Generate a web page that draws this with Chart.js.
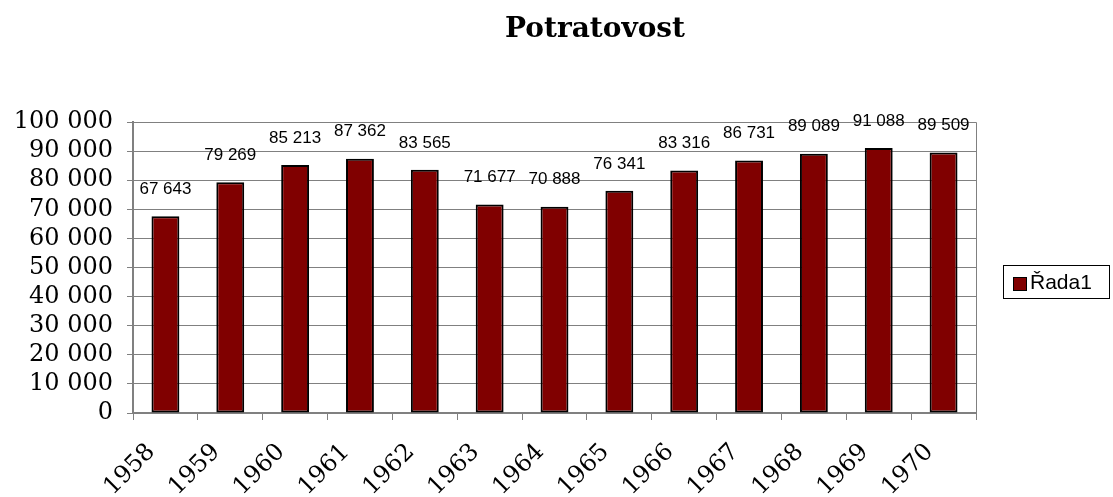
<!DOCTYPE html>
<html>
<head>
<meta charset="utf-8">
<script src="https://cdn.jsdelivr.net/npm/chart.js@4/dist/chart.umd.min.js"></script>
<style>
  html, body { margin: 0; padding: 0; background: #fff; }
  #wrap { width: 1113px; height: 497px; position: relative; }
</style>
</head>
<body>
<div id="wrap"><canvas id="chart"></canvas></div>
<script>
// chart data
const years = ['1958', '1959', '1960', '1961', '1962', '1963', '1964', '1965', '1966', '1967', '1968', '1969', '1970'];
const abortions = [67643, 79269, 85213, 87362, 83565, 71677, 70888, 76341, 83316, 86731, 89089, 91088, 89509];
const seriesName = 'Řada1';
const chartTitle = 'Potratovost';

// 100000 -> "100 000"
function fmt(v) {
    return String(v).replace(/\B(?=(\d{3})+(?!\d))/g, ' ');
}

// title, plot frame, value labels and legend drawn by hand
const extras = {
    id: 'extras',
    beforeDatasetsDraw(chart) {
        const { ctx, chartArea: a } = chart;
        ctx.save();
        ctx.strokeStyle = '#808080';
        ctx.lineWidth = 1;
        ctx.beginPath();
        ctx.moveTo(a.left, a.top + 0.5);
        ctx.lineTo(a.right + 0.5, a.top + 0.5);
        ctx.lineTo(a.right + 0.5, a.bottom);
        ctx.stroke();
        ctx.restore();
    },
    afterDraw(chart) {
        const { ctx } = chart;
        ctx.save();
        // title
        ctx.fillStyle = '#000';
        ctx.font = 'bold 28px "DejaVu Serif"';
        ctx.textAlign = 'center';
        ctx.textBaseline = 'middle';
        ctx.fillText(chartTitle, 595, 30);

        // value labels
        const meta = chart.getDatasetMeta(0);
        ctx.font = '17px "Liberation Sans"';
        meta.data.forEach((bar, i) => {
            ctx.fillText(fmt(abortions[i]), bar.x, bar.y - 27);
        });

        // legend
        ctx.strokeStyle = '#000';
        ctx.lineWidth = 1;
        ctx.strokeRect(1003.5, 265.5, 106, 33);
        ctx.fillStyle = '#800000';
        ctx.fillRect(1013, 277, 14, 14);
        ctx.strokeRect(1013.5, 277.5, 13, 13);
        ctx.fillStyle = '#000';
        ctx.font = '21px "Liberation Sans"';
        ctx.textAlign = 'left';
        ctx.fillText(seriesName, 1030, 283);
        ctx.restore();
    }
};

const ctx = document.getElementById('chart').getContext('2d');
const chart = new Chart(ctx, {
    type: 'bar',
    data: {
        labels: years,
        datasets: [{
            label: seriesName,
            data: abortions,
            backgroundColor: '#800000',
            borderColor: '#000',
            borderWidth: 2,
            borderSkipped: false,
            categoryPercentage: 1,
            barPercentage: 0.43
        }]
    },
    options: {
        responsive: true,
        maintainAspectRatio: false,
        animation: false,
        layout: {
            padding: { top: 122, right: 137, bottom: 0, left: 0 }
        },
        plugins: {
            legend: { display: false },
            title: { display: false },
            tooltip: { enabled: false }
        },
        scales: {
            x: {
                afterFit(s) { s.height = 84; },
                grid: {
                    offset: true,
                    drawOnChartArea: false,
                    tickLength: 7,
                    color: '#808080'
                },
                border: { color: '#808080', width: 2 },
                ticks: {
                    color: '#000',
                    font: { family: 'DejaVu Serif', size: 24 },
                    maxRotation: 45,
                    minRotation: 45,
                    autoSkip: false,
                    labelOffset: -14,
                    padding: 18
                }
            },
            y: {
                min: 0,
                max: 100000,
                afterFit(s) { s.width = 133; },
                grid: {
                    color: '#808080',
                    tickLength: 6
                },
                border: { color: '#808080', width: 2 },
                ticks: {
                    stepSize: 10000,
                    autoSkip: false,
                    color: '#000',
                    font: { family: 'DejaVu Serif', size: 24 },
                    padding: 14,
                    callback: v => fmt(v)
                }
            }
        }
    },
    plugins: [extras]
});
</script>
</body>
</html>
